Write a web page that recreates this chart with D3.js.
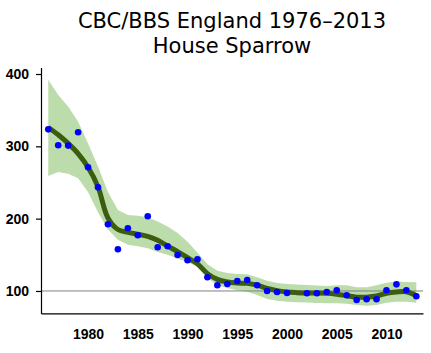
<!DOCTYPE html>
<html><head><meta charset="utf-8">
<script src="https://cdn.jsdelivr.net/npm/d3@7"></script>
<style>body{margin:0;background:#fff}svg{display:block}</style>
</head><body>
<svg id="c" width="431" height="353"></svg>
<script>
const years = d3.range(1976, 2014);
const index = [323.5,301.4,301,319.4,271,243.4,192.2,157.6,186.7,177,203.3,160.4,161.8,149.8,142.4,143.8,118.9,107.9,109.7,113.8,115.2,107.9,100,98.6,97.2,null,96.8,96.8,98.6,101,94,87.6,88.5,88.5,101,109.2,101,92.7];
const trend = [326,316,304,290,271,244,201,185,181,178.5,175.5,170,162,154.4,146,137.5,124,116,112.5,111,110.5,108,103.5,100.5,98.6,97.7,97.2,97.2,96.8,95.5,93.5,91.3,91.5,93,96.8,98.6,99,93.5];
const upper = [392,371,355,334,304,272,237,212,205,204,202,196,189,180,168,153,137,128,125,123.5,123,119,114,111,109.5,109,108.3,107.5,107,108,108,105,105,108,111.5,113,112.5,112];
const lower = [259,264.5,262,256,237,209,185,171,164,162,159,154,150,145,140,133,118,108,104,101,99,94.5,89,86.5,85,84.5,84,83.5,83,83,82.5,80.5,79.7,80.6,83.8,85.2,85.2,83.8];
const yTicks = [100,200,300,400];
const xTicks = [1980,1985,1990,1995,2000,2005,2010];
const titleLines = ["CBC/BBS England 1976\u20132013","House Sparrow"];

const svg = d3.select("#c");
const x = d3.scaleLinear().domain([1975.27, 2013.67]).range([41, 423]);
const y = d3.scaleLinear().domain([69, 409]).range([313.4, 67.5]);

// band
const band = d3.area().x((d,i)=>x(years[i])).y0((d,i)=>y(lower[i])).y1((d,i)=>y(upper[i]));
svg.append("path").datum(years).attr("d", band).attr("fill", "#bddcab");

// reference line
svg.append("line").attr("x1", x.range()[0]).attr("x2", x.range()[1])
  .attr("y1", y(100)).attr("y2", y(100)).attr("stroke", "#808080").attr("stroke-width", 1);

// trend
const line = d3.line().x((d,i)=>x(years[i])).y(d=>y(d)).curve(d3.curveCatmullRom);
svg.append("path").datum(trend).attr("d", line).attr("fill", "none")
  .attr("stroke", "#3c5c10").attr("stroke-width", 5).attr("stroke-linejoin","round");

// points
svg.append("g").selectAll("circle").data(years.map((yr,i)=>({yr, v:index[i]})).filter(d=>d.v!=null))
  .join("circle").attr("cx", d=>x(d.yr)).attr("cy", d=>y(d.v)).attr("r", 3.3).attr("fill", "#0000ff");

// axes
const font = "'Liberation Sans', Arial, sans-serif";
const ya = svg.append("g").attr("transform", "translate(41,0)")
  .call(d3.axisLeft(y).tickValues(yTicks).tickSize(5).tickSizeOuter(0).tickPadding(7));
const xa = svg.append("g").attr("transform", "translate(0,313.4)")
  .call(d3.axisBottom(x).tickValues(xTicks).tickFormat(d3.format("d")).tickSize(0).tickSizeOuter(0).tickPadding(16));
[ya, xa].forEach(g => {
  g.selectAll("text").attr("font-family", font).attr("font-size", 14).attr("font-weight", "bold").attr("fill", "#000");
  g.selectAll("path,line").attr("stroke", "#000").attr("stroke-width", 1.2);
});

// title
svg.append("g").selectAll("text").data(titleLines).join("text")
  .attr("x", 232).attr("y", (d,i)=>28 + i*25).attr("text-anchor", "middle")
  .attr("font-family", "'DejaVu Sans', Verdana, sans-serif").attr("font-size", 21).attr("fill", "#000")
  .text(d=>d);
</script>
</body></html>
